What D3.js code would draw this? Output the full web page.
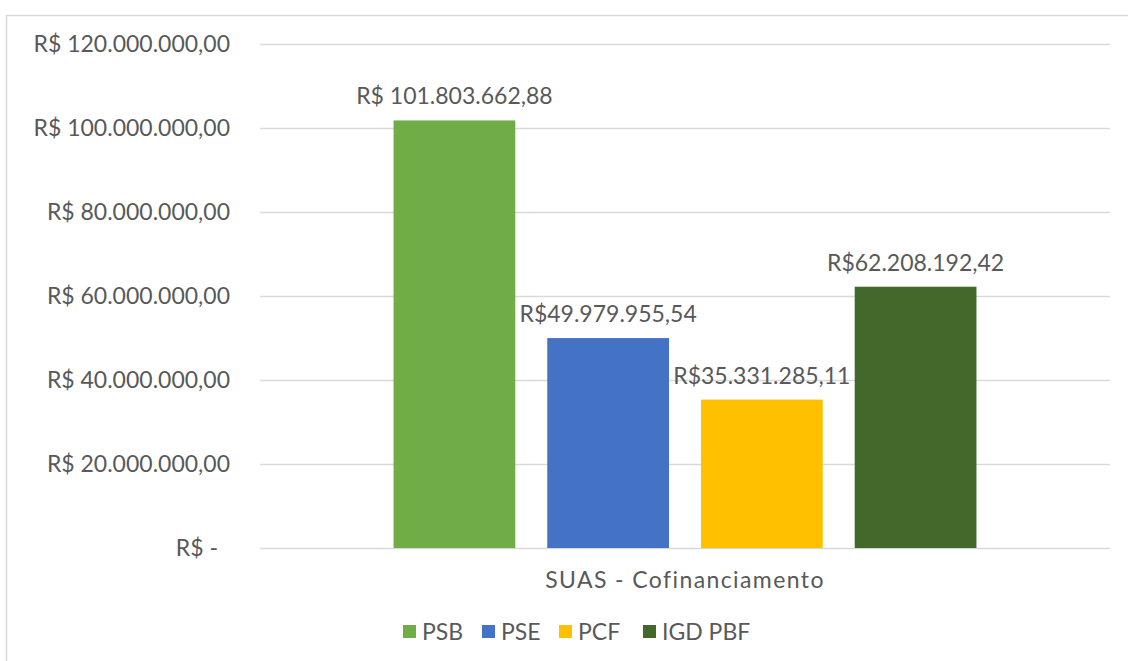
<!DOCTYPE html>
<html>
<head>
<meta charset="utf-8">
<script src="https://cdn.jsdelivr.net/npm/d3@7"></script>
<style>
  body { margin: 0; background: #fff; }
  text { font-family: "Lato", "Open Sans", sans-serif; fill: #595959; }
</style>
</head>
<body>
<script>
var WIDTH = 1128, HEIGHT = 661;

var category = "SUAS - Cofinanciamento";
var seriesNames = ["PSB", "PSE", "PCF", "IGD PBF"];
var seriesValues = [101803662.88, 49979955.54, 35331285.11, 62208192.42];
var valueLabels = ["R$ 101.803.662,88", "R$49.979.955,54", "R$35.331.285,11", "R$62.208.192,42"];
var seriesColors = ["#70ad47", "#4472c4", "#ffc000", "#43682b"];
var tickValues = [0, 20000000, 40000000, 60000000, 80000000, 100000000, 120000000];
var tickLabels = ["R$ -", "R$ 20.000.000,00", "R$ 40.000.000,00", "R$ 60.000.000,00",
                  "R$ 80.000.000,00", "R$ 100.000.000,00", "R$ 120.000.000,00"];

var FONT_SIZE = 23;
var MARGIN = {top: 44, left: 260, right: 18, bottom: 113};
var INNER_WIDTH = WIDTH - MARGIN.left - MARGIN.right;
var INNER_HEIGHT = HEIGHT - MARGIN.top - MARGIN.bottom;

var svg = d3.select("body").append("svg")
    .attr("width", WIDTH)
    .attr("height", HEIGHT);

// chart frame
svg.append("rect")
    .attr("x", 6.5).attr("y", 15.5)
    .attr("width", WIDTH + 10).attr("height", HEIGHT + 10)
    .attr("fill", "none").attr("stroke", "#d9d9d9").attr("stroke-width", 1.5);

var g = svg.append("g")
    .attr("transform", "translate(" + MARGIN.left + "," + MARGIN.top + ")");

var yScale = d3.scaleLinear().domain([0, 120000000]).range([INNER_HEIGHT, 0]);
var xOuter = d3.scaleBand().domain([category]).range([0, INNER_WIDTH]).paddingInner(0).paddingOuter(0.157);
var xInner = d3.scaleBand().domain(seriesNames).range([0, xOuter.bandwidth()]).padding(0.208);

// gridlines + tick labels
var yAxis = d3.axisLeft(yScale)
    .tickValues(tickValues)
    .tickSize(-INNER_WIDTH)
    .tickPadding(30)
    .tickFormat(function(d, i){ return tickLabels[i]; });

var ga = g.append("g").call(yAxis);
ga.select(".domain").remove();
ga.selectAll(".tick line").attr("stroke", "#d9d9d9").attr("stroke-width", 1.5);
ga.selectAll(".tick text")
    .attr("font-size", FONT_SIZE)
    .attr("fill", "#595959")
    .attr("font-family", "Lato, sans-serif")
    .attr("dx", function(d){ return d === 0 ? -12 : 0; });

// bars
var bars = g.append("g").attr("transform", "translate(" + xOuter(category) + ",0)");
bars.selectAll("rect").data(seriesValues)
    .enter()
    .append("rect")
    .attr("x", function(d, i){ return xInner(seriesNames[i]); })
    .attr("y", function(d){ return yScale(d); })
    .attr("width", xInner.bandwidth())
    .attr("height", function(d){ return INNER_HEIGHT - yScale(d); })
    .attr("fill", function(d, i){ return seriesColors[i]; });

bars.selectAll(".lbl").data(seriesValues)
    .enter()
    .append("text")
    .classed("lbl", true)
    .attr("x", function(d, i){ return xInner(seriesNames[i]) + xInner.bandwidth() / 2; })
    .attr("y", function(d){ return yScale(d) - 16; })
    .attr("text-anchor", "middle")
    .attr("font-size", FONT_SIZE)
    .text(function(d, i){ return valueLabels[i]; });

// category label
g.append("text")
    .attr("x", xOuter(category) + xOuter.bandwidth() / 2)
    .attr("y", INNER_HEIGHT + 40)
    .attr("text-anchor", "middle")
    .attr("font-size", FONT_SIZE)
    .attr("letter-spacing", 1.4)
    .text(category);

// legend
var legendX = [403, 482, 559, 643];
var legend = svg.append("g").attr("transform", "translate(0,625)");
var items = legend.selectAll("g").data(seriesNames).enter().append("g")
    .attr("transform", function(d, i){ return "translate(" + legendX[i] + ",0)"; });
items.append("rect").attr("width", 13).attr("height", 13)
    .attr("fill", function(d, i){ return seriesColors[i]; });
items.append("text").attr("x", 19).attr("y", 15).attr("font-size", FONT_SIZE)
    .text(function(d){ return d; });
</script>
</body>
</html>
